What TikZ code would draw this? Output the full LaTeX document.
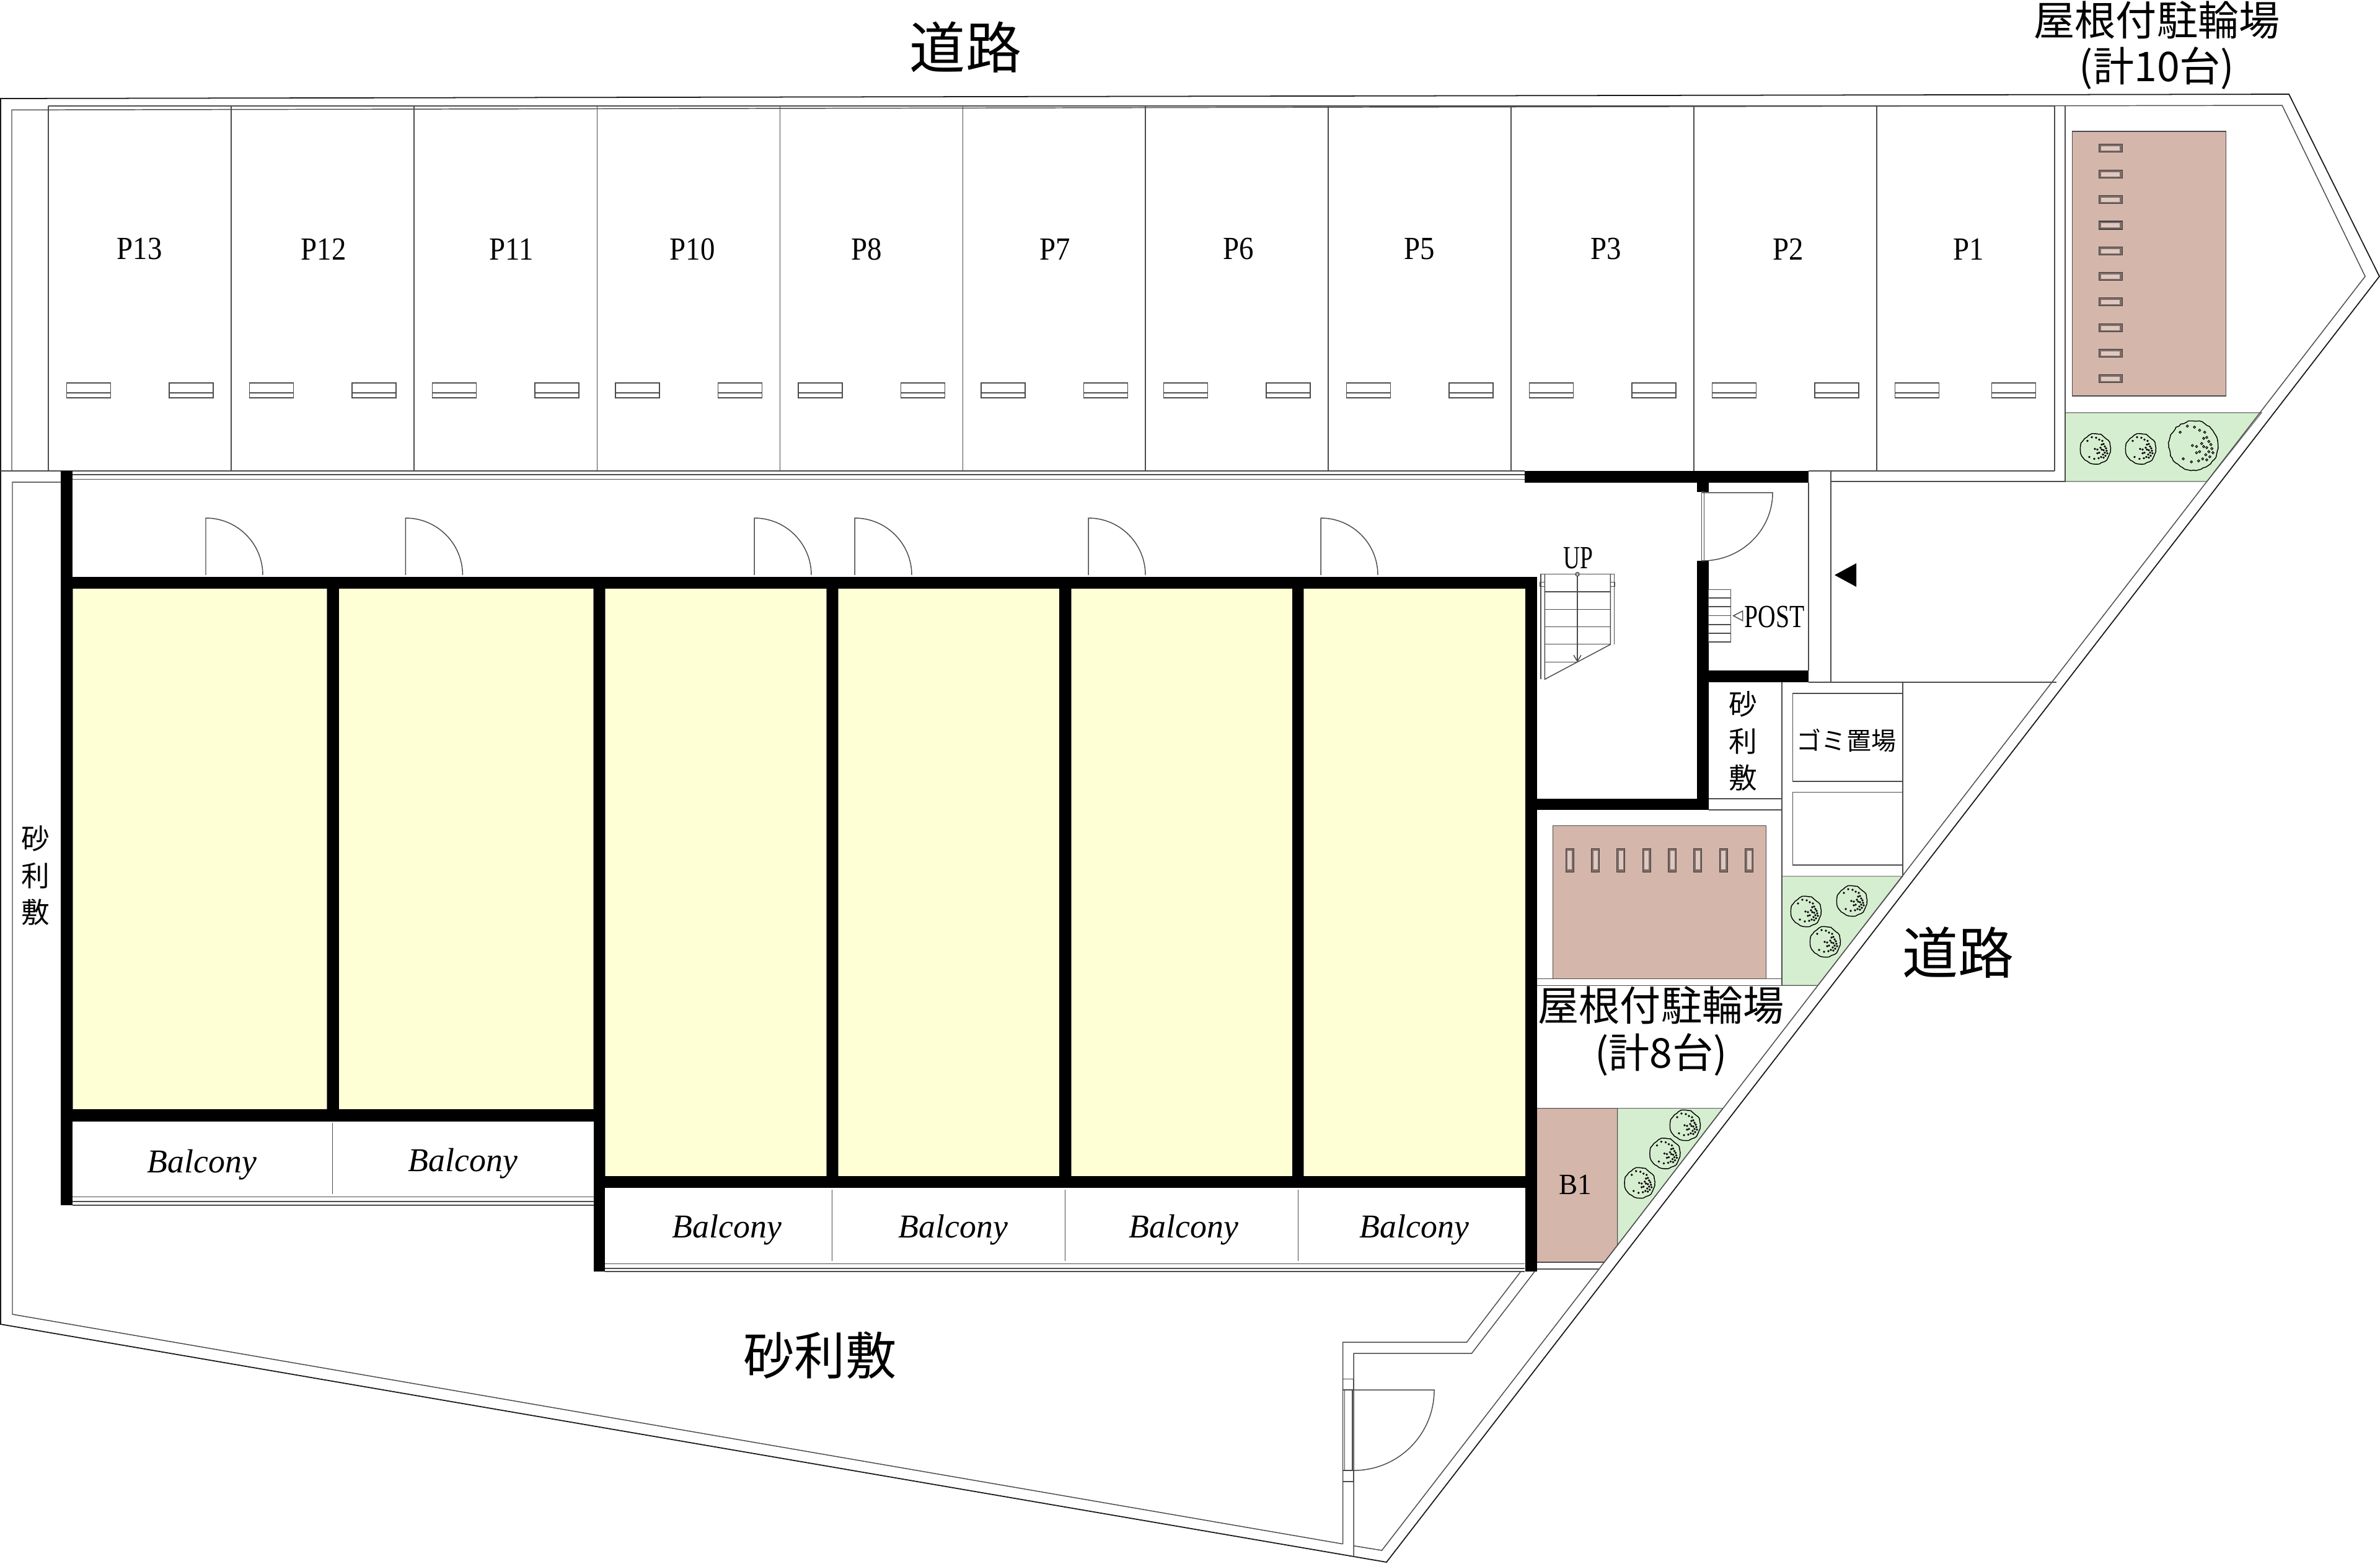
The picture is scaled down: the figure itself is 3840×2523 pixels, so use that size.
\documentclass[tikz,border=0pt]{standalone}
\usepackage{fontspec}
\setmainfont{Liberation Serif}
\newfontfamily\jpfont{Noto Sans CJK JP}
\usetikzlibrary{decorations.pathmorphing}
\definecolor{roomcol}{HTML}{FFFFD6}
\definecolor{roofcol}{HTML}{D5B6AB}
\definecolor{rackcol}{HTML}{7D6C66}
\definecolor{greencol}{HTML}{D6EED0}
\newcommand{\fpx}[1]{\fontsize{#1}{#1}\selectfont}

\begin{document}
\begin{tikzpicture}[x=0.01cm, y=-0.01cm,
	thinline/.style = {draw=black!70, line width=.42pt},
	outline/.style = {draw=black!90, line width=.5pt},
	wall/.style = {fill=black},
	room/.style = {fill=roomcol, draw=black!50, line width=.3pt},
	roof/.style = {fill=roofcol, draw=black!70, line width=.3pt},
	green/.style = {fill=greencol, draw=black!60, line width=.3pt},
	lab/.style = {inner sep=0, font=\fpx{14.8}},
	balc/.style = {inner sep=0, font=\fpx{15.3}\itshape},
	jplab/.style = {inner sep=0, align=center, font=\jpfont\fpx{18.8}},
	jpside/.style = {inner sep=0, align=center, font=\jpfont\fontsize{13}{16.9}\selectfont},
	jpbig/.style = {inner sep=0, font=\jpfont\fpx{25.6}},
	bush/.pic = {
		\pgfmathsetseed{7}
		\draw[line width=.4pt, decorate, decoration={random steps, segment length=1.3pt, amplitude=.3pt}] (0,0) circle (24);
		\foreach \a/\b in {3/1,8/-2,10/1,6/6,3/7,13/-8,15/-4,17/-1,13/2,18/3,15/6,19/7,12/9,16/11,9/13,13/14,5/15,-2/16,-10/13,-13/-13,11/-13,6/-15,1/-18,-6/-19,-1/0,10/-7}
			\draw[line width=.3pt] (\a,\b) circle (1.1);
	},
	rack/.pic = {
		\draw[fill=rackcol, draw=black!75, line width=.3pt] (-19,-6.5) rectangle (19,6.5);
		\fill[roofcol!75!white] (-15,-3.5) rectangle (15,3.5);
	},
	door/.pic = {
		\draw[thinline] (0,92) -- (0,0) .. controls (50.8,0) and (92,41.2) .. (92,92);
	}]

	\useasboundingbox (0,0) rectangle (3840,2523);

	% planted and roofed areas
	\draw[green] (3332,666) -- (3649,666) -- (3561,777) -- (3332,777) -- cycle;
	\draw[green] (2875,1414) -- (3070,1414) -- (2933,1590) -- (2875,1590) -- cycle;
	\draw[green] (2609.5,1788.5) -- (2779.5,1788.5) -- (2609.5,2010) -- cycle;
	\draw[roof] (3343,212) rectangle (3591,639);
	\draw[roof] (2505.6,1332) rectangle (2849,1579.5);
	\draw[roof] (2479,1788.5) -- (2609.5,1788.5) -- (2609.5,2010) -- (2589,2036.5) -- (2479,2036.5) -- cycle;

	% site boundary
	\draw[outline] (1,159) -- (3693,152) -- (3839,446) -- (2237,2521) -- (1,2137) -- cycle;
	\draw[thinline] (19,760) -- (19,177.4) -- (3682,170) -- (3816,446) -- (2229.5,2502) -- (2184,2494.6);
	\draw[thinline] (98,778) -- (20,778) -- (20,2121) -- (2166.5,2491.6);
	\draw[thinline] (2453.6,2052) -- (2366.5,2166) -- (2166.5,2166) -- (2166.5,2491.6);
	\draw[thinline] (2476,2052) -- (2374.5,2184) -- (2184,2184) -- (2184,2512);

	% gate
	\draw[thinline] (2166.5,2225.6) rectangle (2184,2243);
	\draw[thinline] (2166.5,2373) rectangle (2184,2391);
	\draw[thinline] (2169.6,2243) rectangle (2182,2373);
	\draw[thinline] (2184,2243) -- (2314,2243) .. controls (2314,2315) and (2256,2373) .. (2184,2373);

	% parking
	\draw[thinline] (78,171) -- (3315,171) -- (3315,760);
	\draw[thinline] (1,760) -- (2460,760) (2918,760) -- (3315,760);
	\draw[thinline] (117,766) -- (2460,766) (117,773.4) -- (2460,773.4);
	\foreach \x/\d in {78/195,373/195,668/195,963.5/195,1258.5/195,1553.5/195,1848/195,2143/195,2438/195,2733/195,3028/185.5} {
		\draw[thinline] (\x,171) -- (\x,760);
		\draw[thinline] (\x+29.5,618) rectangle ++(71,24.2) (\x+29.5,633.8) -- ++(71,0);
		\draw[thinline] (\x+\d,618) rectangle ++(71,24.2) (\x+\d,633.8) -- ++(71,0);
	}
	\foreach \n/\x in {13/225,12/522,11/825,10/1117,8/1398,7/1702,6/1998,5/2290,3/2591,2/2885,1/3176}
		\node[lab] (p\n) at (\x,402) {\scalebox{.9}[1]{P\n}};

	% lines east of the building
	\draw[thinline] (3332,170.5) -- (3332,777) -- (2954,777);
	\draw[thinline] (2954,760) -- (2954,1101);
	\draw[thinline] (2918,779) -- (2918,1082);
	\draw[thinline] (2918,1101) -- (3318,1101);
	\draw[thinline] (2875,1101) -- (2875,1590);
	\draw[thinline] (3070,1101) -- (3070,1414);
	\draw[thinline] (2757,1289) -- (2875,1289) (2757,1307) -- (2875,1307);
	\draw[thinline] (2479,1579.5) -- (2875,1579.5) (2479,1590.6) -- (2931,1590.6);
	\draw[thinline] (2892.5,1119) rectangle (3070,1261);
	\draw[thinline] (2892.5,1278.5) rectangle (3070,1396);
	\draw[thinline] (2479,2037) -- (2589,2037) (2479,2048) -- (2580,2048);

	% rooms
	\foreach \xa/\xb in {117/528,546.5/957.5}
		\draw[room] (\xa,949.5) rectangle (\xb,1790);
	\foreach \xa/\xb in {976/1333.6,1352/1709,1728/2085.4,2103/2461}
		\draw[room] (\xa,949.5) rectangle (\xb,1898.3);

	% balconies
	\draw[thinline] (117,1931.7) -- (957.5,1931.7) (117,1939) -- (957.5,1939) (117,1945) -- (957.5,1945);
	\draw[thinline] (976,2039.5) -- (2460,2039.5) (976,2047) -- (2460,2047) (976,2052) -- (2460,2052);
	\draw[thinline] (536.6,1812) -- (536.6,1927);
	\foreach \x in {1342.3,1718.4,2094.6}
		\draw[thinline] (\x,1920) -- (\x,2035);
	\foreach \n/\x/\y in {a/326/1880,b/747/1878,c/1173/1985,d/1538/1985,e/1910/1985,f/2282/1985}
		\node[balc] (balc\n) at (\x,\y) {Balcony};

	% walls
	\fill[wall] (97.5,760) rectangle (117,1945);
	\fill[wall] (97.5,931) rectangle (2479.5,949.5);
	\fill[wall] (97.5,1790) rectangle (975.8,1810);
	\fill[wall] (957.5,931) rectangle (975.8,2052);
	\fill[wall] (957.5,1898.3) rectangle (2479.5,1917.3);
	\fill[wall] (2460.5,931) rectangle (2479.5,2052);
	\fill[wall] (528,931) rectangle (546.5,1800);
	\foreach \xa/\xb in {1333.6/1352,1709/1728,2085.4/2103}
		\fill[wall] (\xa,931) rectangle (\xb,1905);
	\fill[wall] (2460,760) rectangle (2918,779);
	\fill[wall] (2738,779) rectangle (2756.5,794);
	\fill[wall] (2737.7,905) rectangle (2756.7,1307);
	\fill[wall] (2756,1082) rectangle (2918,1101);
	\fill[wall] (2479,1289) rectangle (2757,1307);

	% doors
	\foreach \x in {332,654.4,1217,1379,1756,2131}
		\pic at (\x,836) {door};
	\draw[thinline] (2745.7,794) rectangle (2749.3,905);
	\draw[thinline] (2747,795) -- (2860,795) .. controls (2860,856) and (2809,905) .. (2747,905);

	% stairs
	\draw[thinline] (2486,1096) -- (2486,926.7) -- (2604.3,926.7) -- (2604.3,1040);
	\draw[thinline] (2492.3,926.7) -- (2492.3,1096.3) -- (2598.3,1040) -- (2598.3,926.7);
	\foreach \y in {955,983.3,1011.7,1039.7}
		\draw[thinline] (2492.3,\y) -- (2598.3,\y);
	\draw[thinline] (2492.3,1068.3) -- (2545,1068.3);
	\draw[thinline] (2484.7,939.3) rectangle (2492.3,946.7);
	\draw[thinline] (2598.3,939.3) rectangle (2605.7,946.7);
	\draw[thinline] (2545,926.7) circle (3);
	\draw[thinline] (2545,930) -- (2545,1067.3);
	\draw[thinline] (2539,1057.3) -- (2545,1067.3) -- (2551,1057.3);
	\node[lab] (up) at (2546,901) {\scalebox{.72}[1]{UP}};

	% post steps
	\foreach \y in {951.3,965.3,979.5,993.7,1008,1022.3} 
		\draw[thinline] (2756.7,\y) rectangle (2792.3,\y+13.9);
	\draw[thinline] (2796.7,993.7) -- (2811.7,986) -- (2811.7,1001.7) -- cycle;
	\node[lab] (post) at (2863,995) {\scalebox{.76}[1]{POST}};
	\fill (2960,928) -- (2995,909) -- (2995,947) -- cycle;

	% cycle racks
	\foreach \y in {239,281,322,363.5,405,446,487,529,570,611}
		\pic at (3405,\y) {rack};
	\foreach \x in {2532.6,2574,2615,2656.6,2698,2739,2780.6,2822}
		\pic[rotate=90] at (\x,1388) {rack};

	% trees
	\foreach \x/\y in {3381/724.5,3454/724.5,2914/1471,2988/1454,2945/1520,2719/1816,2686.5/1861.5,2645.7/1909}
		\pic at (\x,\y) {bush};
	\pic[scale=1.65] at (3539,719) {bush};

	% labels
	\node[jpbig] (roadtop) at (1558,76) {道路};
	\node[jpbig] (roadeast) at (3159,1537) {道路};
	\node[inner sep=0, font=\jpfont\fpx{23.4}] (gravelsouth) at (1323,2187) {砂利敷};
	\node[jplab, font=\jpfont\fontsize{18.8}{21}\selectfont] (bikenorth) at (3480,73) {屋根付駐輪場\\(計10台)};
	\node[jplab, font=\jpfont\fontsize{18.8}{21.6}\selectfont] (bikeeast) at (2680,1664) {屋根付駐輪場\\(計8台)};
	\node[jpside] (gravelwest) at (57,1413) {砂\\利\\敷};
	\node[jpside] (gravelyard) at (2812,1196) {砂\\利\\敷};
	\node[inner sep=0, font=\jpfont\fpx{11.4}] (garbage) at (2979,1195) {ゴミ置場};
	\node[lab, font=\fpx{13.5}] (b1) at (2541.5,1912) {\scalebox{.95}[1]{B1}};
\end{tikzpicture}
\end{document}
